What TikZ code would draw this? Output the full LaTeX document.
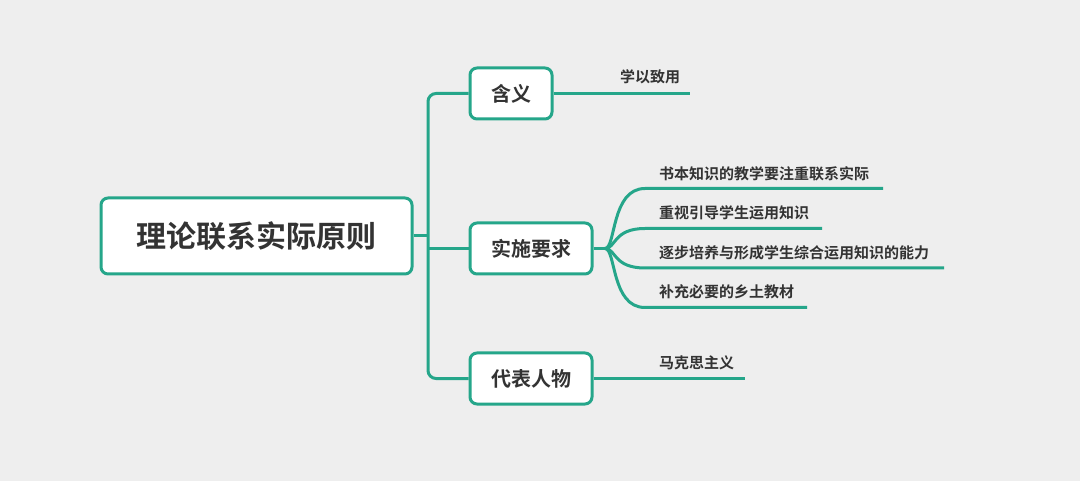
\documentclass[tikz,border=0pt]{standalone}
\usepackage{fontspec}
\newfontfamily\cjk{Noto Sans CJK SC}[BoldFont={Noto Sans CJK SC Bold}]
\definecolor{teal1}{HTML}{25A68A}
\definecolor{bgc}{HTML}{EEEEEE}
\definecolor{txt}{HTML}{333333}
\tikzset{
  box/.style={draw=teal1, line width=3pt, fill=white, rounded corners=7pt, inner sep=0pt, text=txt, font=\cjk\bfseries\fontsize{20}{24}\selectfont},
  link/.style={draw=teal1, line width=3pt},
  leaf/.style={inner sep=0pt, text=txt, font=\cjk\bfseries\fontsize{15}{18}\selectfont, anchor=west},
}
\begin{document}
\begin{tikzpicture}[x=1pt,y=-1pt]
\useasboundingbox[fill=bgc] (0,0) rectangle (1080,481);
% main nodes
\node[box, minimum width=311pt, minimum height=76pt, font=\cjk\bfseries\fontsize{30}{36}\selectfont] (root) at (256.5,236) {理论联系实际原则};
\node[box, minimum width=82pt, minimum height=51pt] (h) at (511,93.5) {含义};
\node[box, minimum width=122pt, minimum height=51pt] (s) at (531,248.5) {实施要求};
\node[box, minimum width=122pt, minimum height=51pt] (d) at (531,378.5) {代表人物};
% trunk
\coordinate (j) at (428,236);
\draw[link] (root.east) -- (j);
\draw[link, rounded corners=8pt] (h.west) -| (j) |- (d.west);
\draw[link] (s.west) -- (s.west -| j);
% leaves of 含义
\node[leaf] (h1) at (620,77) {学以致用};
\coordinate (h1e) at (690,93.5);
\draw[link] (h.east) -- (h1e);
% leaves of 代表人物
\node[leaf] (d1) at (659,363) {马克思主义};
\coordinate (d1e) at (745,378.5);
\draw[link] (d.east) -- (d1e);
% leaves of 实施要求
\coordinate (f) at (605,248.5);
\draw[link] (s.east) -- (f);
\node[leaf] (s1) at (659,173.5) {书本知识的教学要注重联系实际};
\node[leaf] (s2) at (659,213) {重视引导学生运用知识};
\node[leaf] (s3) at (659,252.5) {逐步培养与形成学生综合运用知识的能力};
\node[leaf] (s4) at (659,292) {补充必要的乡土教材};
\coordinate (s1e) at (883,188.5);
\coordinate (s2e) at (822,228.5);
\coordinate (s3e) at (944,268);
\coordinate (s4e) at (807,307.5);
\draw[link] (f) .. controls (616,248.5) and (611,188.5) .. (645,188.5) -- (s1e);
\draw[link] (f) .. controls (616,248.5) and (613,228.5) .. (645,228.5) -- (s2e);
\draw[link] (f) .. controls (616,248.5) and (613,268) .. (645,268) -- (s3e);
\draw[link] (f) .. controls (616,248.5) and (611,307.5) .. (645,307.5) -- (s4e);
\end{tikzpicture}
\end{document}
